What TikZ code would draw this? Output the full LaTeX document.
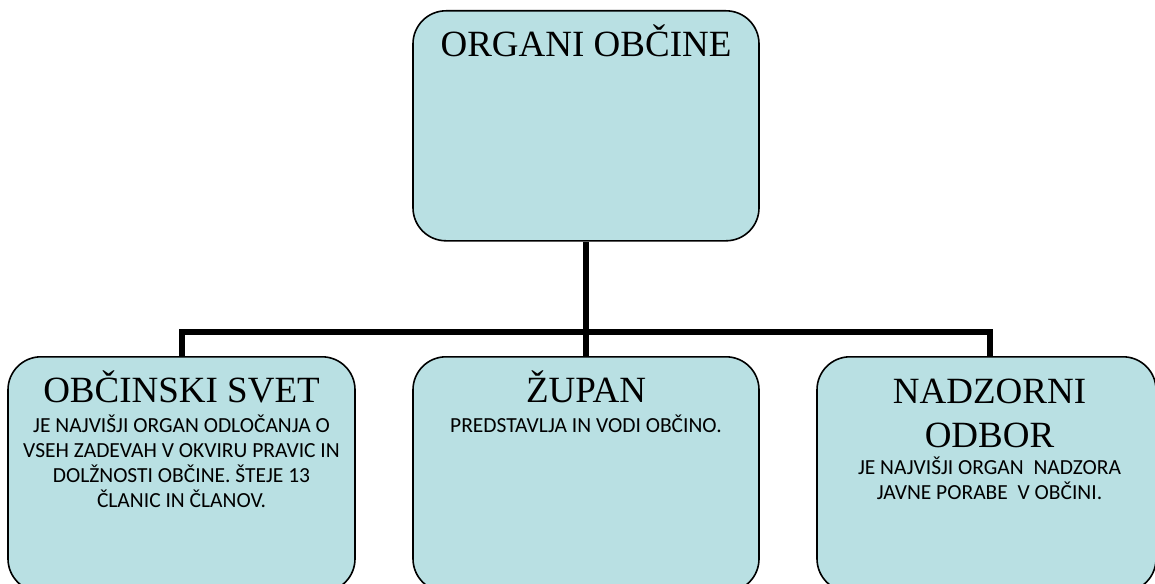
\documentclass[tikz,border=0pt]{standalone}
\usepackage{fontspec}
\setmainfont{Liberation Serif}
\newfontfamily\bodyfont{Carlito}
\usetikzlibrary{positioning}
\definecolor{boxfill}{RGB}{185,224,227}

\begin{document}
\begin{tikzpicture}[x=1pt, y=-1pt,
  organ/.style={draw, line width=1.6pt, rounded corners=33pt, fill=boxfill, inner sep=0pt, anchor=north},
  title/.style={anchor=base, inner sep=0pt, align=center, font=\fontsize{37}{44}\selectfont},
  desc/.style={inner sep=0pt, align=center, font=\bodyfont\fontsize{21.5}{25}\selectfont},
  link/.style={line width=6pt}]
  \useasboundingbox (0,0) rectangle (1155,583);
  \clip (0,0) rectangle (1155,583);
  % boxes
  \node[organ, minimum width=346pt, minimum height=230pt] (obcina) at (586,10) {};
  \foreach \name/\x/\w in {svet/181.5/347, zupan/586/346, odbor/986.5/339}
    \node[organ, minimum width=\w pt, minimum height=235pt] (\name) at (\x,356) {};
  % connectors
  \coordinate (bar) at (586,332);
  \draw[link] (obcina.south) -- (bar);
  \draw[link] (svet.north) |- (bar) -| ([xshift=3pt]odbor.north);
  \draw[link] (bar) -- (zupan.north);
  % texts
  \node[title] (obcinatitle) at ([yshift=-47pt]obcina.north) {ORGANI OBČINE};
  \node[title] (svettitle) at ([yshift=-46pt]svet.north) {OBČINSKI SVET};
  \node[desc, below=13pt of svettitle.base] (svetdesc) {JE NAJVIŠJI ORGAN ODLOČANJA O\\VSEH ZADEVAH V OKVIRU PRAVIC IN\\DOLŽNOSTI OBČINE. ŠTEJE 13\\ČLANIC IN ČLANOV.};
  \node[title] (zupantitle) at ([yshift=-46pt]zupan.north) {ŽUPAN};
  \node[desc, below=13pt of zupantitle.base] (zupandesc) {PREDSTAVLJA IN VODI OBČINO.};
  \node[title] (odbortitle) at ([xshift=3pt, yshift=-91pt]odbor.north) {NADZORNI\\ODBOR};
  \node[desc, below=10pt of odbortitle.base] (odbordesc) {JE NAJVIŠJI ORGAN\ \ NADZORA\\JAVNE PORABE\ \ V OBČINI.};
\end{tikzpicture}
\end{document}
